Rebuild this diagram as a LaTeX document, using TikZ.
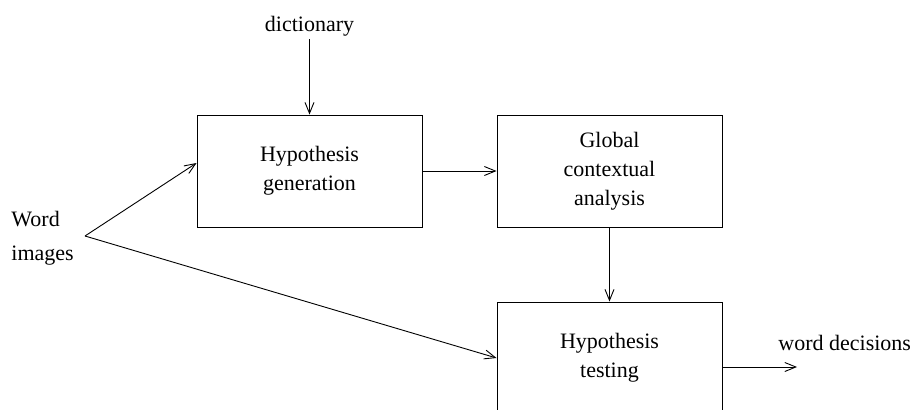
\documentclass[tikz,border=0pt]{standalone}
\usepackage{fontspec}
\setmainfont{Liberation Serif}
\usetikzlibrary{arrows.meta}
\begin{document}
\begin{tikzpicture}[x=1pt, y=-1pt, line width=0.9pt,
  block/.style={draw, minimum width=225pt, minimum height=112pt, inner sep=0pt,
    align=center, font=\fontsize{22}{29}\selectfont},
  lbl/.style={inner sep=0pt, font=\fontsize{22}{29}\selectfont},
  flow/.style={-{Straight Barb[length=11pt,width=9pt]}}]
\useasboundingbox (0,0) rectangle (914,410);
% processing stages
\node[block] (gen)  at (309.5,171) {Hypothesis\\generation};
\node[block] (ctx)  at (609.5,171) {Global\\contextual\\analysis};
\node[block] (test) at (609.5,358) {Hypothesis\\testing};
% inputs and output labels
\node[lbl, anchor=base] (dict) at (309.5,31) {dictionary};
\node[lbl, anchor=base west] (dec) at (778,350) {word decisions};
\node[lbl, align=left, anchor=west, font=\fontsize{22}{34}\selectfont] (img) at (11,238) {Word\\images};
\coordinate (fork) at (85,236);
\coordinate (out) at (797,367);
% connectors
\draw[flow] ([yshift=-3pt]dict.south) -- (gen.north);
\draw[flow] (gen.east) -- (ctx.west);
\draw[flow] (ctx.south) -- (test.north);
\draw[flow] (fork) -- ([yshift=8pt]gen.west);
\draw[flow] (fork) -- (test.west);
\draw[flow] (test.east |- out) -- (out);
\end{tikzpicture}
\end{document}
